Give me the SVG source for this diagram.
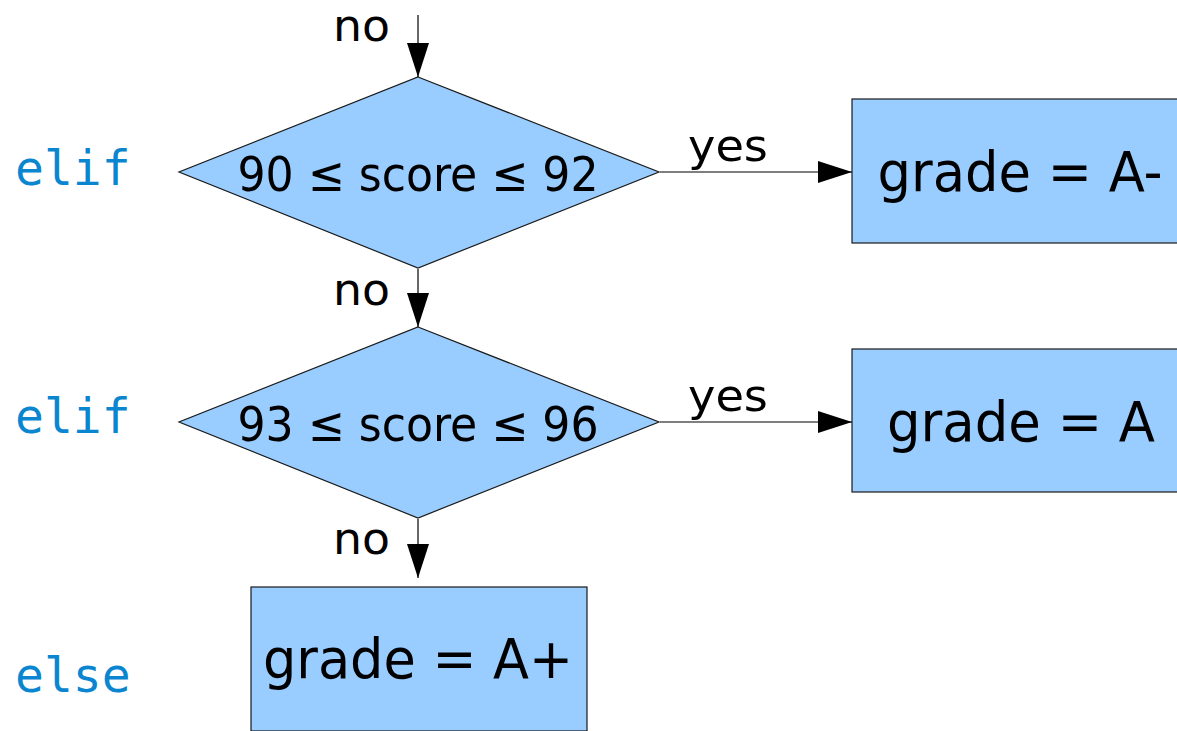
<svg xmlns="http://www.w3.org/2000/svg" width="1177" height="731" viewBox="0 0 1177 731">
<defs>
<marker id="ah" markerWidth="34" markerHeight="22" refX="34" refY="11" orient="auto" markerUnits="userSpaceOnUse">
<path d="M0,0 L34,11 L0,22 Z" fill="#000"/>
</marker>
<style>
.shape{fill:#99ccff;stroke:#1a1a1a;stroke-width:1.2}
.lbl{font-family:"DejaVu Sans Condensed","DejaVu Sans",sans-serif;font-stretch:condensed;fill:#000}
.big{font-size:55px;text-anchor:middle}
.cond{font-size:48px;text-anchor:middle}
.edge{font-size:45px}
.kw{font-family:"DejaVu Sans Mono",monospace;font-size:48px;fill:#0a86d0}
.conn{stroke:#000;stroke-width:1.2;fill:none;marker-end:url(#ah)}
</style>
</defs>
<rect width="1177" height="731" fill="#fff"/>
<g id="keywords">
<text class="kw" x="15" y="185">elif</text>
<text class="kw" x="15" y="433">elif</text>
<text class="kw" x="15" y="692">else</text>
</g>
<g id="d1">
<polygon class="shape" points="418,77 659,172 418,268 179,172"/>
<text class="lbl cond" x="418" y="191" textLength="361" lengthAdjust="spacingAndGlyphs">90 ≤ score ≤ 92</text>
</g>
<g id="d2">
<polygon class="shape" points="418,327 659,422 418,518 179,422"/>
<text class="lbl cond" x="418" y="441" textLength="361" lengthAdjust="spacingAndGlyphs">93 ≤ score ≤ 96</text>
</g>
<g id="bAminus">
<rect class="shape" x="852" y="99" width="340" height="144"/>
<text class="lbl big" x="1020" y="191" textLength="285" lengthAdjust="spacingAndGlyphs">grade = A-</text>
</g>
<g id="bA">
<rect class="shape" x="852" y="349" width="340" height="143"/>
<text class="lbl big" x="1021" y="441" textLength="268" lengthAdjust="spacingAndGlyphs">grade = A</text>
</g>
<g id="bAplus">
<rect class="shape" x="251" y="587" width="336" height="144"/>
<text class="lbl big" x="418" y="678" textLength="310" lengthAdjust="spacingAndGlyphs">grade = A+</text>
</g>
<g id="connectors">
<line class="conn" x1="418" y1="15" x2="418" y2="77"/>
<line class="conn" x1="418" y1="269" x2="418" y2="327"/>
<line class="conn" x1="418" y1="519" x2="418" y2="578"/>
<line class="conn" x1="660" y1="172" x2="852" y2="172"/>
<line class="conn" x1="660" y1="422" x2="852" y2="422"/>
<text class="lbl edge" x="333" y="41" textLength="57" lengthAdjust="spacingAndGlyphs">no</text>
<text class="lbl edge" x="333" y="305" textLength="57" lengthAdjust="spacingAndGlyphs">no</text>
<text class="lbl edge" x="333" y="554" textLength="57" lengthAdjust="spacingAndGlyphs">no</text>
<text class="lbl edge" x="688" y="161" textLength="80" lengthAdjust="spacingAndGlyphs">yes</text>
<text class="lbl edge" x="688" y="411" textLength="80" lengthAdjust="spacingAndGlyphs">yes</text>
</g>
</svg>
